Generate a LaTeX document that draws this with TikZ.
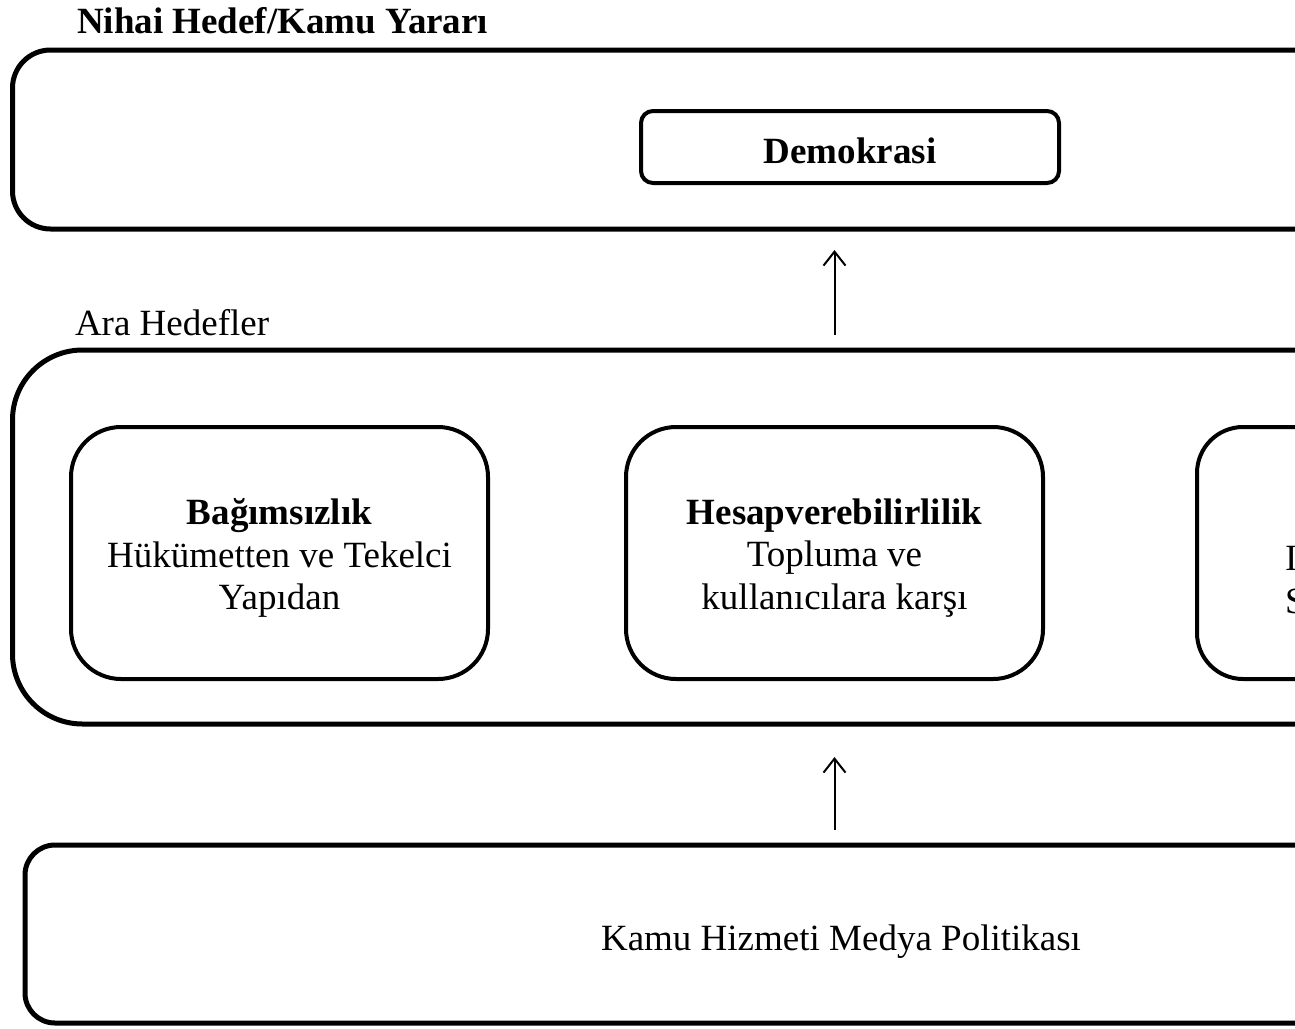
\documentclass[tikz,border=0pt]{standalone}
\usepackage{fontspec}
\setmainfont{Liberation Serif}
\usetikzlibrary{arrows.meta}
\begin{document}
\begin{tikzpicture}[x=1pt,y=-1pt,
  every node/.style={font=\fontsize{37}{42.5}\selectfont, inner sep=0pt, outer sep=0pt},
  frame/.style={draw, line width=5pt, rounded corners=#1, anchor=north west},
  goalbox/.style={draw, line width=4pt, rounded corners=#1, anchor=north west},
  boxtext/.style={align=center},
  label/.style={anchor=base west},
  arr/.style={-{Straight Barb[length=14pt,width=22pt]}, line width=2pt}]
\useasboundingbox (0,0) rectangle (1295,1028);
\clip (0,0) rectangle (1295,1028);

% level headings
\node[label, font=\fontsize{37}{42.5}\selectfont\bfseries] (ttop) at (77,33) {Nihai Hedef/Kamu Yararı};
\node[label] (tmid) at (75,335) {Ara Hedefler};

% outer frames (they run on past the right edge)
\node[frame=38pt, minimum width=1800pt, minimum height=179pt] (top) at (12.5,50) {};
\node[frame=70pt, minimum width=1800pt, minimum height=374pt] (mid) at (12.5,350) {};
\node[frame=30pt, minimum width=1800pt, minimum height=178pt] (bot) at (25,845) {};

% ultimate goal
\node[goalbox=12pt, minimum width=418pt, minimum height=72pt] (demo) at (641,111) {};
\node[boxtext, font=\fontsize{37}{42.5}\selectfont\bfseries] (demotxt)
  at ([yshift=-4pt]demo.center) {Demokrasi};

% intermediate goals
\node[goalbox=50pt, minimum width=417pt, minimum height=252pt] (box1) at (71,427) {};
\node[boxtext] (box1txt) at ([yshift=-5pt]box1.center)
  {\textbf{Bağımsızlık}\\Hükümetten ve Tekelci\\Yapıdan};
\node[goalbox=50pt, minimum width=417pt, minimum height=252pt] (box2) at (626,427) {};
\node[boxtext] (box2txt) at ([yshift=-5pt]box2.center)
  {\textbf{Hesapverebilirlilik}\\Topluma ve\\kullanıcılara karşı};
\node[goalbox=46pt, minimum width=417pt, minimum height=252pt] (box3) at (1197,427) {};
\node[anchor=west, align=left] (box3txt) at (1285,580) {I\\S};

% policy
\node (policy) at (841,942) {Kamu Hizmeti Medya Politikası};

% connectors
\draw[arr, shorten <=15pt, shorten >=21pt] (mid.north -| box2) -- (top.south -| box2);
\draw[arr, shorten <=15pt, shorten >=33pt] (bot.north -| box2) -- (mid.south -| box2);
\end{tikzpicture}
\end{document}
